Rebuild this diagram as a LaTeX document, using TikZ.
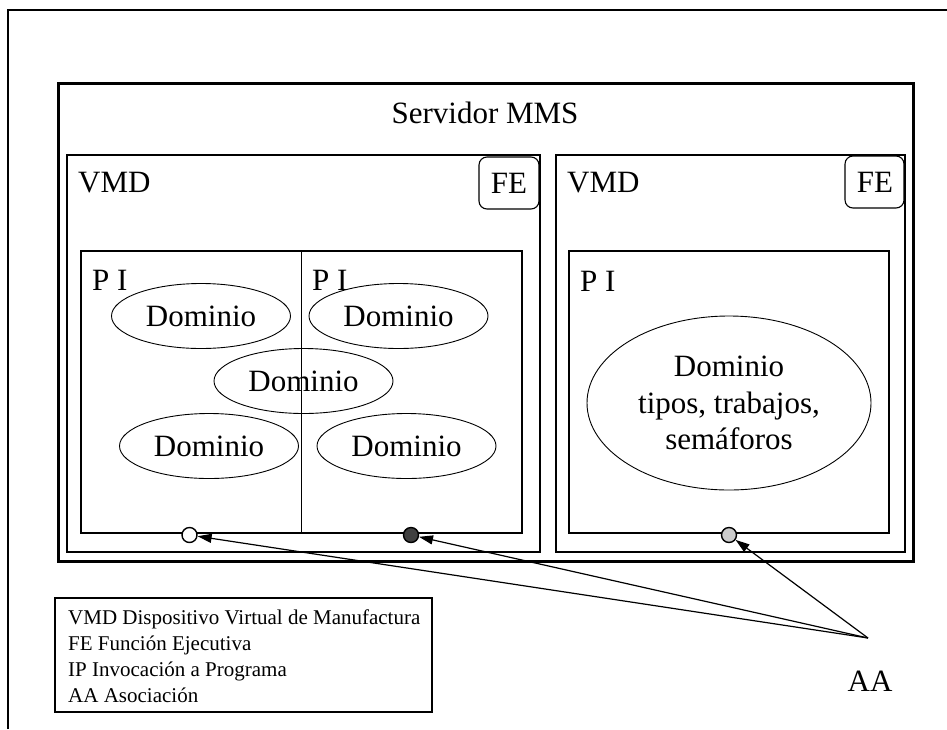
\documentclass[tikz,border=0pt]{standalone}
\usepackage{fontspec}
\setmainfont{Liberation Serif}
\usetikzlibrary{shapes.geometric,arrows.meta}
\begin{document}
\begin{tikzpicture}[x=1pt,y=-1pt,
  big/.style={font=\fontsize{31}{36}\selectfont, inner sep=0pt},
  box/.style={draw, line width=1.1pt},
  dom/.style={draw, ellipse, line width=0.9pt, minimum width=179pt, minimum height=65pt, inner sep=0pt, font=\fontsize{31}{36}\selectfont},
  aapt/.style={draw, circle, line width=1.4pt, minimum size=15pt, inner sep=0pt},
  conn/.style={line width=1.2pt, -{Triangle[length=14pt,width=9pt]}}]
\useasboundingbox (0,0) rectangle (947,729);
% outer frame
\draw[line width=1.8pt] (8,729) -- (8,10) -- (947,10);
% server
\draw[line width=3pt] (58,83) rectangle (913,561);
\node[big] (srv) at (485,113) {Servidor MMS};
% VMD boxes
\draw[box] (67,155) rectangle (540,552);
\draw[box] (556,155) rectangle (905,552);
\node[big, anchor=west] (vmd1) at (78,183) {VMD};
\node[big, anchor=west] (vmd2) at (567,183) {VMD};
% FE boxes
\draw[box, rounded corners=8pt] (479,157) rectangle (539,209);
\node[big] (fe1) at (509,183) {FE};
\draw[box, rounded corners=8pt] (845,156) rectangle (904,208);
\node[big] (fe2) at (875,182) {FE};
% PI boxes
\draw[box] (81,251) rectangle (522,533);
\draw[box] (301.5,251) -- (301.5,533);
\draw[box] (569,251) rectangle (889,533);
\node[big, anchor=west] (pi1) at (92,280) {P I};
\node[big, anchor=west] (pi2) at (312,280) {P I};
\node[big, anchor=west] (pi3) at (580,281) {P I};
% domains
\node[dom] (d1) at (201,316) {Dominio};
\node[dom] (d2) at (398.5,316) {Dominio};
\node[dom] (d3) at (303.5,381) {Dominio};
\node[dom] (d4) at (209,446) {Dominio};
\node[dom] (d5) at (406.5,446) {Dominio};
\node[dom, minimum width=284pt, minimum height=174pt, align=center, font=\fontsize{31}{36.5}\selectfont] (d6) at (729,403) {Dominio\\tipos, trabajos,\\semáforos};
% association points
\node[aapt, fill=white] (c1) at (189.5,535) {};
\node[aapt, fill=black!75] (c2) at (411,535) {};
\node[aapt, fill=black!20] (c3) at (729,535) {};
\coordinate (aa) at (868,638);
\node[big] (aalbl) at (870,681) {AA};
\draw[conn] (aa) -- (c1);
\draw[conn] (aa) -- (c2);
\draw[conn] (aa) -- (c3);
% legend
\draw[box] (55,598) rectangle (432,712);
\node[anchor=north west, align=left, font=\fontsize{21}{26}\selectfont, inner sep=0pt] (leg) at (68,609) {VMD Dispositivo Virtual de Manufactura\\FE Función Ejecutiva\\IP Invocación a Programa\\AA Asociación};
\end{tikzpicture}
\end{document}
